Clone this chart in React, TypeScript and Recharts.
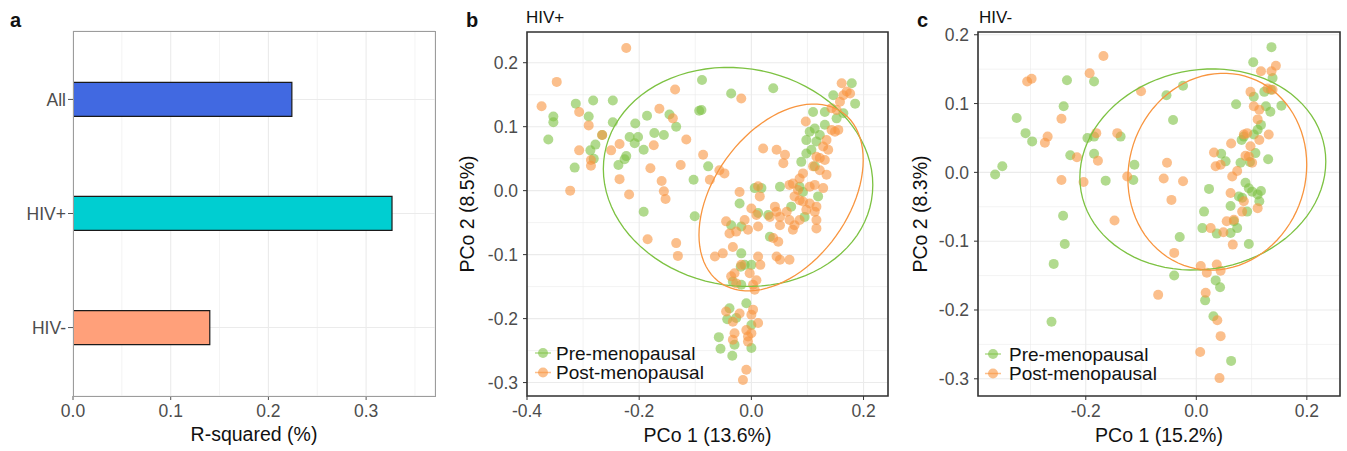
import React from 'react'
import {
  BarChart, Bar, Cell, ScatterChart, Scatter, XAxis, YAxis, CartesianGrid,
  ReferenceArea, Label,
} from 'recharts'

const FONT = '"Liberation Sans", Arial, Helvetica, sans-serif'
const TICK = { fill: '#4D4D4D', fontSize: 17.5, fontFamily: FONT }
const GRID = '#EBEBEB'
const GREEN = '#7DC242'
const ORANGE = '#F8953F'

// panel a
const GROUPS = ['All', 'HIV+', 'HIV-']
const R_SQUARED = [0.224, 0.3265, 0.14]
const BAR_COLORS = ['#4169E1', '#00CED1', '#FFA07A']
const R2_TICKS = [0, 0.1, 0.2, 0.3]
const R2_MINOR = [0.05, 0.15, 0.25, 0.35]

// panel b (HIV+)
const B_PRE: [number, number][] = [
  [-0.362, 0.08], [-0.353, 0.116], [-0.353, 0.107], [-0.313, 0.136], [-0.282, 0.141], [-0.29, 0.116],
  [-0.287, 0.063], [-0.278, 0.072], [-0.281, 0.05], [-0.315, 0.036], [-0.247, 0.141], [-0.247, 0.107],
  [-0.237, 0.04], [-0.226, 0.049], [-0.223, 0.054], [-0.217, 0.084], [-0.207, 0.105], [-0.202, 0.084],
  [-0.208, 0.074], [-0.192, 0.064], [-0.186, 0.117], [-0.173, 0.09], [-0.156, 0.087], [-0.146, 0.119],
  [-0.134, 0.1], [-0.093, 0.125], [-0.103, 0.017], [-0.192, -0.033], [-0.101, -0.04], [-0.266, 0.087],
  [0.179, 0.168], [0.185, 0.136], [0.146, 0.149], [0.131, 0.123], [0.11, 0.123], [0.164, 0.121],
  [0.152, 0.113], [0.104, 0.092], [0.113, 0.097], [0.122, 0.087], [0.131, 0.103], [0.098, 0.079],
  [0.116, 0.077], [0.107, 0.064], [0.098, 0.058], [0.089, 0.045], [0.113, 0.038], [0.086, 0.006],
  [0.092, -0.002], [0.119, -0.009], [0.071, -0.025], [0.095, -0.041], [0.051, 0.006], [0.018, 0.004],
  [0.006, 0.004], [-0.021, -0.02], [0.012, -0.035], [0.03, -0.038], [-0.018, -0.056], [-0.036, -0.054],
  [-0.077, 0.038], [0.039, 0.16], [-0.036, 0.152], [-0.088, 0.173], [-0.089, 0.126], [0.033, -0.072],
  [-0.018, -0.098], [-0.019, -0.119], [-0.012, -0.116], [0, -0.116], [-0.033, -0.142], [-0.018, -0.147],
  [-0.039, -0.184], [-0.043, -0.201], [-0.027, -0.199], [-0.009, -0.176], [0, -0.21], [-0.058, -0.229],
  [-0.055, -0.247], [-0.03, -0.241], [0, -0.246], [-0.034, -0.258],
]
const B_POST: [number, number][] = [
  [-0.223, 0.223], [-0.347, 0.17], [-0.374, 0.132], [-0.307, 0.123], [-0.29, 0.102], [-0.266, 0.087],
  [-0.307, 0.063], [-0.286, 0.048], [-0.286, 0.039], [-0.323, 0], [-0.25, 0.063], [-0.235, 0.073],
  [-0.235, 0.018], [-0.218, -0.006], [-0.174, 0.071], [-0.18, 0.035], [-0.164, 0.128], [-0.14, 0.113],
  [-0.136, 0.158], [-0.116, 0.08], [-0.126, 0.04], [-0.16, 0.015], [-0.156, -0.001], [-0.153, -0.013],
  [-0.185, -0.076], [-0.134, -0.082], [-0.131, -0.102],
  [0.161, 0.168], [0.17, 0.155], [0.176, 0.152], [0.164, 0.149], [0.158, 0.139], [0.143, 0.129],
  [0.152, 0.126], [0.097, 0.108], [0.143, 0.095], [0.149, 0.092], [0.155, 0.095], [0.134, 0.079],
  [0.128, 0.069], [0.137, 0.064], [0.122, 0.051], [0.131, 0.048], [0.116, 0.053], [0.11, 0.038],
  [0.122, 0.032], [0.134, 0.025], [0.128, 0.004], [0.113, 0.009], [0.104, 0.006], [0.092, 0.027],
  [0.086, 0.019], [0.074, 0.011], [0.068, 0.009], [0.083, 0.001], [0.077, -0.009], [0.086, -0.015],
  [0.092, -0.017], [0.104, -0.02], [0.116, -0.025], [0.098, -0.03], [0.113, -0.033], [0.045, 0.064],
  [0.06, 0.056], [0.057, 0.043], [0.021, 0.066], [-0.057, 0.032], [-0.048, 0.027], [-0.074, 0.017],
  [-0.086, 0.056], [-0.021, -0.002], [0.015, -0.009], [0.012, 0.007], [0, -0.028], [0.009, -0.038],
  [-0.012, -0.046], [0.042, -0.025], [0.045, -0.033], [0.051, -0.041], [0.033, -0.041], [0.063, -0.033],
  [0.068, -0.046], [0.074, -0.061], [0.051, -0.054], [0.039, -0.074], [0.048, -0.08], [0.012, -0.056],
  [-0.006, -0.061], [-0.027, -0.064], [-0.039, -0.067], [-0.045, -0.048], [0.116, -0.046], [0.116, -0.059],
  [0.086, -0.046], [0.077, -0.054], [-0.018, 0.144],
  [-0.065, -0.103], [-0.051, -0.098], [-0.033, -0.088], [0.012, -0.103], [0.016, -0.116], [-0.03, -0.129],
  [-0.036, -0.134], [-0.018, -0.116], [0.009, -0.14], [0.006, -0.155], [0.045, -0.103], [0.051, -0.108],
  [0.068, -0.108], [-0.027, -0.145], [0.003, -0.147], [-0.003, -0.129],
  [-0.045, -0.189], [-0.033, -0.205], [-0.03, -0.223], [-0.033, -0.233], [-0.021, -0.192], [-0.009, -0.218],
  [-0.006, -0.228], [-0.006, -0.236], [0.003, -0.186], [0, -0.194], [0.012, -0.207], [0, -0.223],
  [-0.009, -0.28], [-0.015, -0.296],
]

// panel c (HIV-)
const C_PRE: [number, number][] = [
  [-0.364, -0.003], [-0.351, 0.009], [-0.325, 0.079], [-0.309, 0.057], [-0.297, 0.045], [-0.234, 0.134],
  [-0.24, 0.096], [-0.228, 0.025], [-0.241, -0.063], [-0.238, -0.104], [-0.258, -0.133], [-0.262, -0.217],
  [-0.185, 0.132], [-0.197, 0.05], [-0.185, 0.052], [-0.185, 0.027], [-0.164, -0.012], [-0.137, 0.052],
  [-0.112, 0.011], [-0.114, -0.011], [-0.054, 0.112], [-0.024, 0.126], [-0.042, 0.076], [-0.03, -0.094],
  [-0.04, -0.15], [0.023, -0.024], [0.014, -0.057], [0.011, -0.081], [0.037, -0.089], [0.035, -0.157],
  [0.043, -0.167], [0.016, -0.186], [0.031, -0.209], [0.063, -0.274], [0.072, 0.099], [0.045, 0.027],
  [0.053, 0.016], [0.103, 0.16], [0.136, 0.182], [0.138, 0.137], [0.135, 0.12], [0.154, 0.097],
  [0.123, 0.117], [0.104, 0.11], [0.126, 0.096], [0.134, 0.088], [0.117, 0.069], [0.111, 0.062],
  [0.104, 0.055], [0.082, 0.047], [0.086, 0.052], [0.107, 0.028], [0.097, 0.015], [0.08, 0.014],
  [0.13, 0.019], [0.089, -0.015], [0.095, -0.023], [0.101, -0.028], [0.111, -0.032], [0.117, -0.027],
  [0.114, -0.042], [0.077, -0.035], [0.083, -0.037], [0.092, -0.057], [0.068, -0.071], [0.074, -0.081],
  [0.062, -0.088], [0.095, -0.104], [0.062, -0.049],
]
const C_POST: [number, number][] = [
  [-0.306, 0.132], [-0.298, 0.136], [-0.274, 0.043], [-0.269, 0.052], [-0.244, 0.078], [-0.244, -0.011],
  [-0.216, 0.022], [-0.204, -0.014], [-0.193, 0.144], [-0.181, 0.057], [-0.178, 0.017], [-0.168, 0.169],
  [-0.143, 0.057], [-0.1, 0.118], [-0.125, -0.006], [-0.148, -0.07], [-0.059, -0.009], [-0.053, 0.014],
  [-0.045, -0.04], [-0.024, -0.013], [-0.04, -0.117], [-0.069, -0.178], [0.008, -0.136], [0.019, -0.146],
  [0.037, -0.134], [0.044, -0.143], [0.017, -0.175], [0.038, -0.215], [0.044, -0.238], [0.007, -0.261],
  [0.042, -0.299], [0.026, -0.081], [0.049, -0.087], [0.032, 0.029], [0.035, 0.009], [0.044, 0.011],
  [0.063, 0.042], [0.086, 0.055], [0.092, 0.057], [0.089, 0.024], [0.095, 0.023], [0.101, 0.014],
  [0.098, 0.038], [0.114, 0.047], [0.131, 0.055], [0.111, 0.077], [0.104, 0.096], [0.114, 0.091],
  [0.098, 0.117], [0.117, 0.147], [0.136, 0.147], [0.144, 0.155], [0.129, 0.122], [0.138, 0.12],
  [0.074, 0.002], [0.065, -0.006], [0.062, -0.03], [0.086, -0.042], [0.083, -0.057], [0.111, -0.052],
  [0.068, -0.069], [0.055, -0.071], [0.066, -0.105],
]

// 95% ellipses: centre x, centre y, then two conjugate semi-axes (ux, uy), (vx, vy)
const B_PRE_ELLIPSE = [-0.0237, 0.0214, 0.2402, -0.0125, 0, 0.1708]
const B_POST_ELLIPSE = [0.053, -0.0106, 0.1464, 0.0586, 0, 0.1338]
const C_PRE_ELLIPSE = [0.0118, 0.0042, 0.2225, 0.0116, 0, 0.1457]
const C_POST_ELLIPSE = [0.038, 0.001, 0.1618, 0.0101, 0, 0.1427]

const toXY = (pts: [number, number][]) => pts.map(([x, y]) => ({ x, y }))

function outline(e: number[]) {
  const [cx, cy, ux, uy, vx, vy] = e
  const out = []
  for (let i = 0; i <= 90; i++) {
    const t = (i / 90) * Math.PI * 2
    out.push({ x: cx + ux * Math.cos(t) + vx * Math.sin(t), y: cy + uy * Math.cos(t) + vy * Math.sin(t) })
  }
  return out
}

const fmt = (v: number) => v.toFixed(1)

const dot = (color: string) => (p: any) => (
  <circle cx={p.cx} cy={p.cy} r={5} fill={color} fillOpacity={0.6} stroke="none" />
)
const noDot = () => <g />

function RsquaredPanel() {
  const data = GROUPS.map((g, i) => ({ group: g, value: R_SQUARED[i] }))
  return (
    <div style={{ position: 'absolute', left: 0, top: 0 }}>
      <BarChart layout="vertical" width={445} height={451} data={data} barSize={34}
        margin={{ top: 31, right: 10, bottom: 0, left: 0 }}>
        <CartesianGrid stroke={GRID} strokeWidth={0.6} horizontal={false} verticalValues={R2_MINOR} />
        <CartesianGrid stroke={GRID} strokeWidth={1.1} />
        <XAxis type="number" dataKey="value" domain={[0, 0.3705]} ticks={R2_TICKS} interval={0}
          allowDataOverflow tickFormatter={fmt} tick={TICK} tickSize={4} tickMargin={5}
          axisLine={false} tickLine={{ stroke: '#555' }} height={55}>
          <Label value="R-squared (%)" position="insideBottom" offset={10}
            style={{ fontSize: 19.5, fontFamily: FONT, fill: '#111' }} />
        </XAxis>
        <YAxis type="category" dataKey="group" width={73} padding={{ top: 11.4, bottom: 11.4 }}
          tick={TICK} tickSize={5} tickMargin={2} axisLine={false} tickLine={{ stroke: '#555' }} />
        <Bar dataKey="value" stroke="#1a1a1a" strokeWidth={1.2} isAnimationActive={false}>
          {data.map((d, i) => <Cell key={d.group} fill={BAR_COLORS[i]} />)}
        </Bar>
      </BarChart>
      <div style={{
        position: 'absolute', left: 72.5, top: 30.5, width: 363, height: 366,
        border: '1.3px solid #9c9c9c', boxSizing: 'border-box',
      }} />
    </div>
  )
}

function PcoaPanel(props: {
  left: number; width: number; yAxisWidth: number
  xDomain: [number, number]; yDomain: [number, number]
  xTicks: number[]; yTicks: number[]; xMinor: number[]; yMinor: number[]
  pre: [number, number][]; post: [number, number][]
  preEllipse: number[]; postEllipse: number[]
  xTitle: string; yTitle: string; yTitleOffset: number
}) {
  const p = props
  return (
    <div style={{ position: 'absolute', left: p.left, top: 0 }}>
      <ScatterChart width={p.width} height={451} margin={{ top: 32, right: 7, bottom: 0, left: 0 }}>
        <CartesianGrid stroke={GRID} strokeWidth={0.6} verticalValues={p.xMinor} horizontalValues={p.yMinor} />
        <CartesianGrid stroke={GRID} strokeWidth={1.1} />
        <XAxis type="number" dataKey="x" domain={p.xDomain} ticks={p.xTicks} interval={0}
          allowDataOverflow tickFormatter={fmt} tick={TICK} tickSize={4} tickMargin={5}
          axisLine={false} tickLine={{ stroke: '#333' }} height={55}>
          <Label value={p.xTitle} position="insideBottom" offset={9}
            style={{ fontSize: 19.5, fontFamily: FONT, fill: '#111' }} />
        </XAxis>
        <YAxis type="number" dataKey="y" domain={p.yDomain} ticks={p.yTicks} interval={0}
          allowDataOverflow tickFormatter={fmt} tick={TICK} tickSize={4} tickMargin={5}
          axisLine={false} tickLine={{ stroke: '#333' }} width={p.yAxisWidth}>
          <Label value={p.yTitle} angle={-90} position="insideLeft" offset={p.yTitleOffset}
            style={{ fontSize: 19.5, fontFamily: FONT, fill: '#111', textAnchor: 'middle' }} />
        </YAxis>
        <Scatter data={toXY(p.pre)} shape={dot(GREEN)} isAnimationActive={false} />
        <Scatter data={toXY(p.post)} shape={dot(ORANGE)} isAnimationActive={false} />
        <Scatter data={outline(p.preEllipse)} fill="none" shape={noDot} lineType="joint"
          line={{ stroke: GREEN, strokeWidth: 1.3, fill: 'none' }} isAnimationActive={false} />
        <Scatter data={outline(p.postEllipse)} fill="none" shape={noDot} lineType="joint"
          line={{ stroke: ORANGE, strokeWidth: 1.3, fill: 'none' }} isAnimationActive={false} />
        <ReferenceArea x1={p.xDomain[0]} x2={p.xDomain[1]} y1={p.yDomain[0]} y2={p.yDomain[1]}
          fill="none" fillOpacity={0} stroke="#333" strokeWidth={1.6} ifOverflow="visible" />
      </ScatterChart>
    </div>
  )
}

function Legend({ keyX, textX, rows }: { keyX: number; textX: number; rows: number[] }) {
  const items = [
    { name: 'Pre-menopausal', color: GREEN },
    { name: 'Post-menopausal', color: ORANGE },
  ]
  return (
    <g>
      {items.map((it, i) => (
        <g key={it.name}>
          <line x1={keyX - 8} x2={keyX + 8} y1={rows[i]} y2={rows[i]} stroke={it.color}
            strokeOpacity={0.6} strokeWidth={1.5} />
          <circle cx={keyX} cy={rows[i]} r={5} fill={it.color} fillOpacity={0.6} />
          <text x={textX} y={rows[i] + 6.5} fontSize={19} fontFamily={FONT} fill="#111">{it.name}</text>
        </g>
      ))}
    </g>
  )
}

export default function App() {
  return (
    <div style={{ position: 'absolute', left: 0, top: 0, width: 1347, height: 451, background: '#fff' }}>
      <RsquaredPanel />
      <PcoaPanel left={440} width={455} yAxisWidth={87}
        xDomain={[-0.4, 0.2436]} yDomain={[-0.321, 0.248]}
        xTicks={[-0.4, -0.2, 0, 0.2]} yTicks={[-0.3, -0.2, -0.1, 0, 0.1, 0.2]}
        xMinor={[-0.3, -0.1, 0.1]} yMinor={[-0.25, -0.15, -0.05, 0.05, 0.15]}
        pre={B_PRE} post={B_POST} preEllipse={B_PRE_ELLIPSE} postEllipse={B_POST_ELLIPSE}
        xTitle="PCo 1 (13.6%)" yTitle="PCo 2 (8.5%)" yTitleOffset={27} />
      <PcoaPanel left={890} width={457} yAxisWidth={88}
        xDomain={[-0.395, 0.26]} yDomain={[-0.325, 0.204]}
        xTicks={[-0.2, 0, 0.2]} yTicks={[-0.3, -0.2, -0.1, 0, 0.1, 0.2]}
        xMinor={[-0.3, -0.1, 0.1]} yMinor={[-0.25, -0.15, -0.05, 0.05, 0.15]}
        pre={C_PRE} post={C_POST} preEllipse={C_PRE_ELLIPSE} postEllipse={C_POST_ELLIPSE}
        xTitle="PCo 1 (15.2%)" yTitle="PCo 2 (8.3%)" yTitleOffset={30} />
      <svg width={1347} height={451} style={{ position: 'absolute', left: 0, top: 0, pointerEvents: 'none' }}>
        <text x={10} y={27} fontSize={20} fontWeight="bold" fontFamily={FONT} fill="#111">a</text>
        <text x={466} y={27} fontSize={20} fontWeight="bold" fontFamily={FONT} fill="#111">b</text>
        <text x={917} y={27} fontSize={20} fontWeight="bold" fontFamily={FONT} fill="#111">c</text>
        <text x={526} y={23} fontSize={17} fontFamily={FONT} fill="#111">HIV+</text>
        <text x={979} y={23} fontSize={17} fontFamily={FONT} fill="#111">HIV-</text>
        <Legend keyX={543} textX={556} rows={[353, 372.5]} />
        <Legend keyX={993} textX={1009} rows={[354, 373.5]} />
      </svg>
    </div>
  )
}
